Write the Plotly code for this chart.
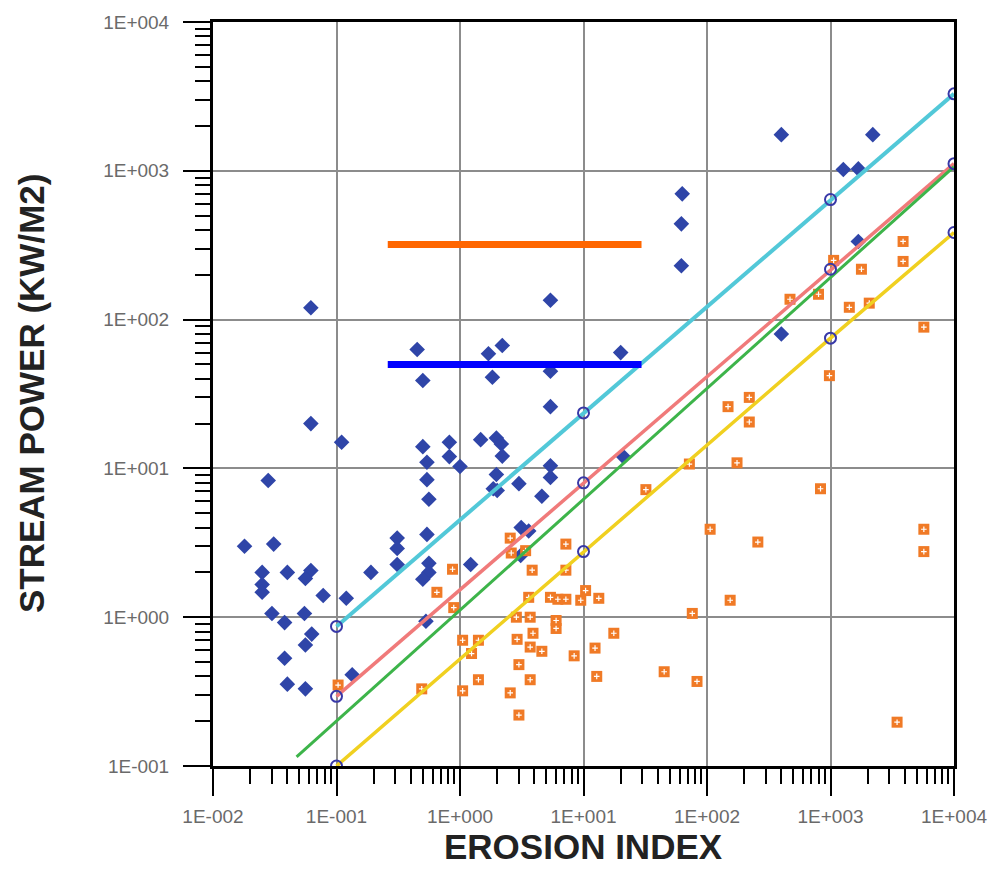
import plotly.graph_objects as go

# ---- data ----
diamond_x = [0.018, 0.028, 0.025, 0.025, 0.025, 0.031, 0.040, 0.062, 0.056, 0.078,
             0.12, 0.030, 0.038, 0.055, 0.063, 0.056, 0.038, 0.040, 0.056, 0.134,
             0.19, 0.31, 0.31, 0.31, 0.54, 0.56, 0.56, 0.50, 1.22, 0.53,
             0.062, 0.45, 0.50, 0.062, 0.11, 0.50, 0.82, 0.82, 1.0, 0.54,
             0.54, 0.56, 1.47, 1.97, 2.16, 2.2, 1.97, 1.86, 2.0, 3.0,
             5.4, 5.4, 4.6, 1.7, 2.2, 1.83, 5.4, 5.4, 5.4, 20,
             21, 3.13, 3.6, 3.1, 400, 2200, 1270, 1680, 63, 62,
             62, 1680, 400]
diamond_y = [3.0, 8.3, 2.0, 1.66, 1.47, 3.1, 2.0, 2.06, 1.82, 1.4,
             1.34, 1.06, 0.92, 1.06, 0.77, 0.65, 0.53, 0.355, 0.33, 0.41,
             2.0, 3.4, 2.9, 2.26, 3.6, 2.3, 2.0, 1.8, 2.26, 0.94,
             120, 63, 39, 20, 15, 14, 15, 12, 10.3, 11,
             8.4, 6.2, 15.6, 16, 14.6, 12.1, 9.1, 7.3, 7.1, 7.9,
             10.4, 8.7, 6.5, 59, 67, 41, 135, 45, 26, 60,
             12, 4.0, 3.8, 2.6, 1750, 1750, 1020, 1030, 700, 440,
             230, 335, 80]

square_x = [0.103, 0.65, 0.87, 0.89, 0.49, 1.05, 1.41, 1.24, 1.05, 1.41,
            2.55, 2.6, 3.4, 7.2, 3.84, 7.2, 3.6, 2.86, 3.7, 5.4,
            6.2, 7.2, 9.5, 10.4, 13.3, 6.0, 6.0, 17.6, 2.9, 3.9,
            3.7, 4.6, 8.4, 12.4, 3.0, 3.7, 12.8, 2.55, 3.0, 470,
            1420, 2060, 5700, 980, 148, 220, 220, 72, 175, 32,
            830, 106, 258, 5700, 5700, 154, 76, 45, 83, 3460,
            3870, 3870, 1780, 800, 1060]
square_y = [0.35, 1.47, 2.1, 1.16, 0.33, 0.70, 0.70, 0.57, 0.32, 0.38,
            3.4, 2.7, 2.8, 3.1, 2.07, 2.07, 1.36, 1.0, 1.0, 1.36,
            1.32, 1.32, 1.3, 1.51, 1.34, 0.95, 0.84, 0.78, 0.71, 0.78,
            0.63, 0.59, 0.55, 0.62, 0.48, 0.38, 0.40, 0.31, 0.22, 137,
            121, 129, 89, 42, 26, 30, 20.5, 10.7, 10.9, 7.2,
            7.3, 3.9, 3.2, 3.9, 2.76, 1.3, 1.06, 0.43, 0.37, 0.197,
            335, 246, 218, 148, 250]

line_x = [0.1, 10, 1000, 10000]
cyan_y = [0.867, 23.6, 641, 3290]
pink_y = [0.294, 8.0, 218, 1117]
yellow_y = [0.1, 2.76, 75, 385]
green_x = [0.0475, 10000]
green_y = [0.115, 1067]

orange_bar_x = [0.26, 29.5]
orange_bar_y = [320, 320]
blue_bar_x = [0.26, 29.5]
blue_bar_y = [50, 50]

x_tickvals = [0.01, 0.1, 1, 10, 100, 1000, 10000]
x_ticktext = ["1E-002", "1E-001", "1E+000", "1E+001", "1E+002", "1E+003", "1E+004"]
y_tickvals = [0.1, 1, 10, 100, 1000, 10000]
y_ticktext = ["1E-001", "1E+000", "1E+001", "1E+002", "1E+003", "1E+004"]

x_minor = [m * 10 ** e for e in range(-2, 4) for m in range(2, 10)]
y_minor = [m * 10 ** e for e in range(-1, 4) for m in range(2, 10)]

fig = go.Figure()

fig.add_trace(go.Scatter(x=diamond_x, y=diamond_y, mode="markers",
                         marker=dict(symbol="diamond", size=12, color="#2f45a8")))
fig.add_trace(go.Scatter(x=square_x, y=square_y, mode="markers",
                         marker=dict(symbol="square", size=11, color="#f07a26")))
fig.add_trace(go.Scatter(x=square_x, y=square_y, mode="markers",
                         marker=dict(symbol="cross-thin", size=4,
                                     line=dict(color="white", width=1.2))))

fig.add_trace(go.Scatter(x=line_x, y=cyan_y, mode="lines",
                         line=dict(color="#52c8d8", width=4)))
fig.add_trace(go.Scatter(x=line_x, y=pink_y, mode="lines",
                         line=dict(color="#f07a7a", width=3.5)))
fig.add_trace(go.Scatter(x=green_x, y=green_y, mode="lines",
                         line=dict(color="#3db44a", width=3)))
fig.add_trace(go.Scatter(x=line_x, y=yellow_y, mode="lines",
                         line=dict(color="#f0d020", width=3.5)))

for ys in (cyan_y, pink_y, yellow_y):
    fig.add_trace(go.Scatter(x=line_x, y=ys, mode="markers",
                             marker=dict(symbol="circle-open", size=11, color="#3838a8",
                                         line=dict(width=2))))

fig.add_trace(go.Scatter(x=orange_bar_x, y=orange_bar_y, mode="lines",
                         line=dict(color="#ff6600", width=7)))
fig.add_trace(go.Scatter(x=blue_bar_x, y=blue_bar_y, mode="lines",
                         line=dict(color="#0000ff", width=7)))

axis_common = dict(
    showline=True, linecolor="black", linewidth=3, mirror=True,
    showgrid=True, gridcolor="#8c8c8c", gridwidth=2,
    ticks="outside", ticklen=27, tickwidth=2, tickcolor="black",
    tickfont=dict(family="Liberation Sans, Arial, sans-serif", size=19, color="#6a6a6a"),
    zeroline=False,
)

fig.update_xaxes(type="log", range=[-2, 4], tickmode="array",
                 tickvals=x_tickvals, ticktext=x_ticktext, ticklabelstandoff=4,
                 minor=dict(tickmode="array", tickvals=x_minor, ticks="outside",
                            ticklen=15, tickwidth=2, tickcolor="black", showgrid=False),
                 **axis_common)
fig.update_yaxes(type="log", range=[-1, 4], tickmode="array",
                 tickvals=y_tickvals, ticktext=y_ticktext, ticklabelstandoff=10,
                 minor=dict(tickmode="array", tickvals=y_minor, ticks="outside",
                            ticklen=15, tickwidth=2, tickcolor="black", showgrid=False),
                 **axis_common)

title_font = dict(family="Liberation Sans, Arial, sans-serif", size=35, color="#222222")
fig.add_annotation(text="<b>EROSION INDEX</b>", xref="paper", yref="paper",
                   x=0.5, y=-0.1085, xanchor="center", yanchor="middle",
                   showarrow=False, font=title_font)
fig.add_annotation(text="<b>STREAM POWER (KW/M2)</b>", xref="paper", yref="paper",
                   x=-0.2456, y=0.5, xanchor="center", yanchor="middle",
                   textangle=-90, showarrow=False, font=title_font)

fig.update_layout(
    width=999, height=869,
    margin=dict(l=213, r=41, t=20, b=103),
    paper_bgcolor="white", plot_bgcolor="white",
    showlegend=False,
)

fig.write_html("out.html", config={"displayModeBar": False},
               post_script="document.body.style.margin='0';document.body.style.overflow='hidden';")
